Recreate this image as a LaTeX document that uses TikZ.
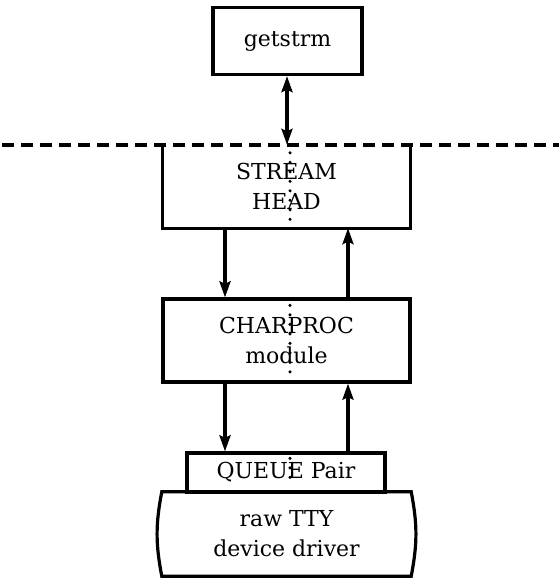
\documentclass[tikz,border=0pt]{standalone}
\usepackage{fontspec}
\setmainfont{DejaVu Serif}
\usetikzlibrary{arrows.meta,calc}
\begin{document}
\begin{tikzpicture}[x=1pt,y=-1pt,
  txt/.style={inner sep=0pt,align=center,font=\fontsize{22}{30}\selectfont},
  box/.style={txt,draw,line width=3.2pt},
  edge/.style={line width=3.2pt,line join=miter},
  tip/.tip={Stealth[length=16pt,width=11pt,inset=2.5pt]},
  arr/.style={line width=3.2pt,-tip},
  darr/.style={line width=3.2pt,tip-tip},
  dashline/.style={line width=3.4pt,dash pattern=on 12pt off 7pt},
  dots/.style={line width=3.4pt,line cap=round,dash pattern=on 0pt off 9.5pt}]
\useasboundingbox (0,0) rectangle (559,578);
% nodes
\node[box,minimum width=149pt,minimum height=67pt] (getstrm) at (287.5,41) {getstrm};
\node[txt,minimum width=247pt,minimum height=83pt] (head) at (286.5,186.5) {STREAM\\HEAD};
\node[box,minimum width=247pt,minimum height=83pt] (charproc) at (286.5,340.5) {CHARPROC\\module};
\node[box,minimum width=198pt,minimum height=39pt] (queue) at (286,472.5) {QUEUE Pair};
\node[txt,minimum width=249pt,minimum height=84pt] (driver) at (286.5,534) {raw TTY\\device driver};
% coordinates
\coordinate (dashL) at (2,145);
\coordinate (dashR) at (559,145);
\coordinate (mid) at (287,0);
\coordinate (down) at (225,0);
\coordinate (up) at (348,0);
% dashed boundary and stream head box
\draw[dashline] (dashL) -- (dashR);
\draw[edge] (head.north west) -- (head.south west) -- (head.south east) -- (head.north east);
% driver shape
\draw[edge] (driver.north west) to[bend right=11] (driver.south west) -- (driver.south east) to[bend right=11] (driver.north east) -- cycle;
% arrows
\draw[darr] (getstrm.south -| mid) -- (head.north -| mid);
\draw[arr] (head.south -| down) -- (charproc.north -| down);
\draw[arr] (charproc.north -| up) -- (head.south -| up);
\draw[arr] (charproc.south -| down) -- (queue.north -| down);
\draw[arr] (queue.north -| up) -- (charproc.south -| up);
% dotted centre line
\draw[dots] ($(head.north)+(3.5,8)$) -- ($(head.south)+(3.5,-6)$);
\draw[dots] ($(charproc.north)+(3.5,8)$) -- ($(charproc.south)+(3.5,-6)$);
\draw[dots] ($(queue.north)+(4,7)$) -- ($(queue.south)+(4,-8)$);
\end{tikzpicture}
\end{document}
